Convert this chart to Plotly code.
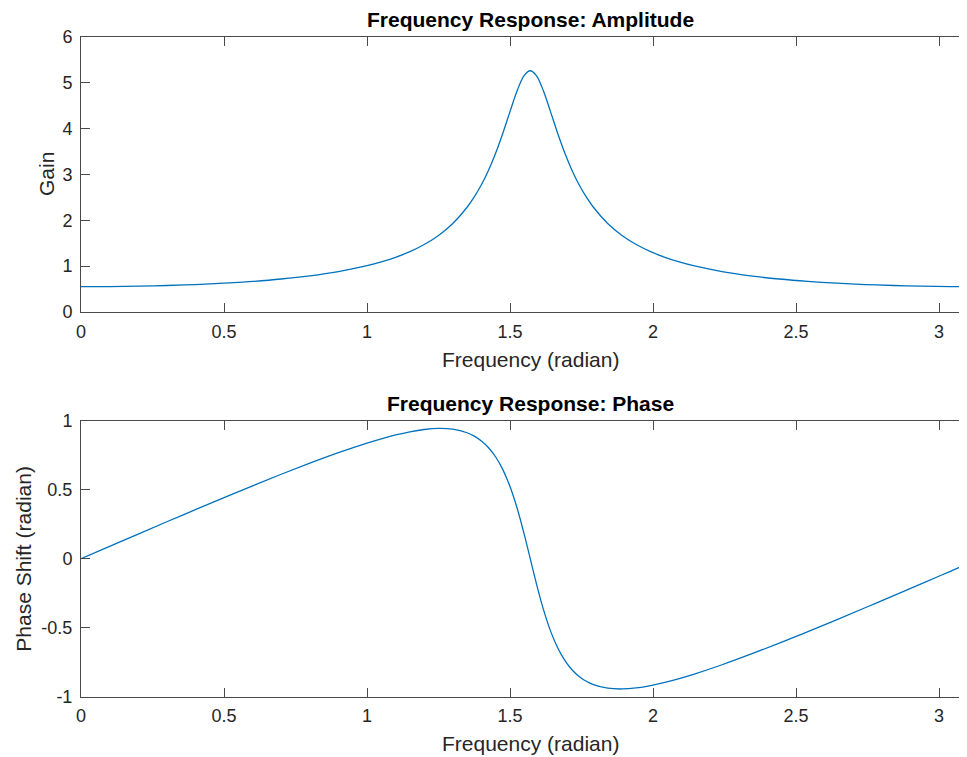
import plotly.graph_objects as go

# Frequency samples (radian)
freq = [0.00, 0.10, 0.20, 0.30, 0.40, 0.50, 0.60, 0.70, 0.80, 0.90, 1.00, 1.05, 1.10, 1.15,
        1.20, 1.25, 1.30, 1.35, 1.375, 1.40, 1.425, 1.45, 1.475, 1.50, 1.525, 1.55, 1.5708,
        1.5916, 1.6166, 1.6416, 1.6666, 1.6916, 1.7166, 1.7416, 1.7666, 1.7916, 1.8416,
        1.8916, 1.9416, 1.9916, 2.0416, 2.0916, 2.1416, 2.2416, 2.3416, 2.4416, 2.5416,
        2.6416, 2.7416, 2.8416, 2.9416, 3.0416, 3.1416]

# Amplitude (gain)
gain = [0.5525, 0.5552, 0.5636, 0.5780, 0.5992, 0.6285, 0.6677, 0.7195, 0.7884, 0.8811,
        1.0092, 1.0922, 1.1929, 1.3168, 1.4720, 1.6707, 1.9319, 2.2851, 2.5100, 2.7767,
        3.0937, 3.4681, 3.8999, 4.3719, 4.8286, 5.1640, 5.2632,
        5.1640, 4.8286, 4.3719, 3.8999, 3.4681, 3.0937, 2.7767, 2.5100, 2.2851, 1.9319,
        1.6707, 1.4720, 1.3168, 1.1929, 1.0922, 1.0092, 0.8811, 0.7884, 0.7195, 0.6677,
        0.6285, 0.5992, 0.5780, 0.5636, 0.5552, 0.5525]

# Phase shift (radian)
phase = [0.0000, 0.0895, 0.1787, 0.2676, 0.3555, 0.4427, 0.5283, 0.6119, 0.6921, 0.7685,
         0.8381, 0.8690, 0.8966, 0.9196, 0.9363, 0.9440, 0.9385, 0.9126, 0.8885, 0.8529,
         0.8044, 0.7369, 0.6456, 0.5231, 0.3655, 0.1748, 0.0000,
         -0.1748, -0.3655, -0.5231, -0.6456, -0.7369, -0.8044, -0.8529, -0.8885, -0.9126,
         -0.9385, -0.9440, -0.9363, -0.9196, -0.8966, -0.8690, -0.8381, -0.7685, -0.6921,
         -0.6119, -0.5283, -0.4427, -0.3555, -0.2676, -0.1787, -0.0895, 0.0000]

x_ticks = [0, 0.5, 1, 1.5, 2, 2.5, 3]
x_ticklabels = ["0", "0.5", "1", "1.5", "2", "2.5", "3"]
gain_ticks = [0, 1, 2, 3, 4, 5, 6]
phase_ticks = [-1, -0.5, 0, 0.5, 1]
phase_ticklabels = ["-1", "-0.5", "0", "0.5", "1"]

# the page body has an 8px margin, so the figure starts at page (8, 8)
OFF = 8
W, H = 967 - OFF, 757 - OFF
LINE = "#0072BD"
AX = "#4a4a4a"
TXT = "#262626"
FONT = "Liberation Sans, Arial, Helvetica, sans-serif"

fig = go.Figure()
fig.add_trace(go.Scatter(x=freq, y=gain, mode="lines", line=dict(color=LINE, width=1.3, shape="spline"),
                         xaxis="x", yaxis="y", showlegend=False, hoverinfo="skip"))
fig.add_trace(go.Scatter(x=freq, y=phase, mode="lines", line=dict(color=LINE, width=1.3, shape="spline"),
                         xaxis="x2", yaxis="y2", showlegend=False, hoverinfo="skip"))

px_left, px_right = 81, 967
xmax = (px_right - px_left) / 286.0

def px(p):
    return (p - OFF) / W

def py(p):
    return 1 - (p - OFF) / H

common_x = dict(range=[0, xmax], tickvals=x_ticks, ticktext=x_ticklabels, showline=True,
                linecolor=AX, linewidth=1, mirror="ticks", ticks="inside", ticklen=9,
                tickcolor=AX, tickwidth=1, showgrid=False, zeroline=False, automargin=False,
                tickfont=dict(family=FONT, size=18, color=TXT), ticklabelstandoff=3,
                domain=[px(px_left), 1])
common_y = dict(showline=True, linecolor=AX, linewidth=1, ticks="inside", ticklen=9,
                tickcolor=AX, tickwidth=1, showgrid=False, zeroline=False, automargin=False,
                tickfont=dict(family=FONT, size=18, color=TXT), ticklabelstandoff=4)

fig.update_layout(
    template="none",
    width=W, height=H, margin=dict(l=0, r=0, t=0, b=0, autoexpand=False),
    paper_bgcolor="white", plot_bgcolor="white",
    xaxis=dict(**common_x, anchor="y"),
    yaxis=dict(**common_y, range=[0, 6], tickvals=gain_ticks, domain=[py(312), py(37)], anchor="x"),
    xaxis2=dict(**common_x, anchor="y2"),
    yaxis2=dict(**common_y, range=[-1, 1], tickvals=phase_ticks, ticktext=phase_ticklabels,
                domain=[py(696.7), py(420.7)], anchor="x2"),
)

cx = px(530)
ann = [
    dict(text="<b>Frequency Response: Amplitude</b>", x=cx, y=py(19.5), size=21, angle=0),
    dict(text="<b>Frequency Response: Phase</b>", x=cx, y=py(403.5), size=21, angle=0),
    dict(text="Frequency (radian)", x=cx, y=py(359.5), size=21, angle=0),
    dict(text="Frequency (radian)", x=cx, y=py(743), size=21, angle=0),
    dict(text="Gain", x=px(46.5), y=py(174.5), size=21, angle=-90),
    dict(text="Phase Shift (radian)", x=px(24), y=py(558.7), size=21, angle=-90),
]
for a in ann:
    fig.add_annotation(text=a["text"], x=a["x"], y=a["y"], xref="paper", yref="paper",
                       xanchor="center", yanchor="middle", showarrow=False, textangle=a["angle"],
                       font=dict(family=FONT, size=a["size"], color="#000000" if "<b>" in a["text"] else TXT))

fig.write_html("out.html")
